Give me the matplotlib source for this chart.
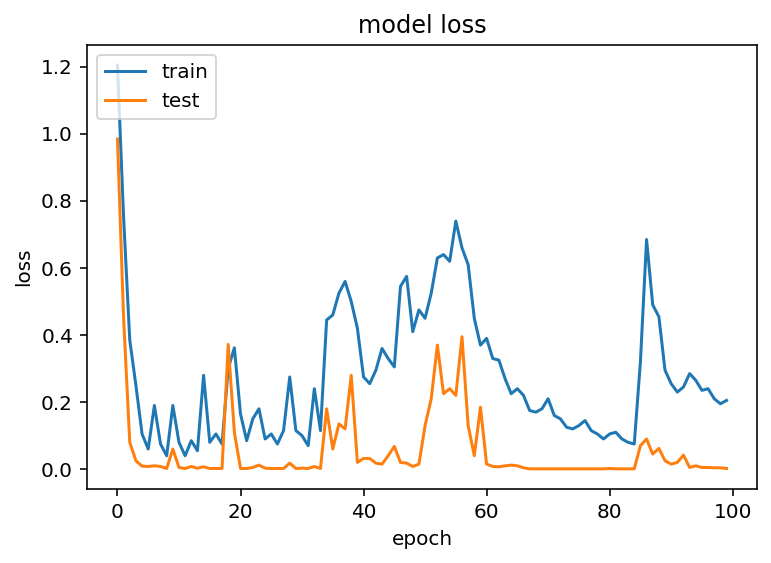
import matplotlib
matplotlib.use("Agg")
import matplotlib.pyplot as plt

# loss history
epochs = list(range(100))

train_loss = [
    1.205, 0.75, 0.385, 0.25, 0.105, 0.06, 0.19, 0.075, 0.04, 0.19,
    0.08, 0.04, 0.085, 0.055, 0.28, 0.08, 0.105, 0.075, 0.30, 0.362,
    0.165, 0.085, 0.15, 0.18, 0.09, 0.105, 0.075, 0.115, 0.275, 0.115,
    0.10, 0.07, 0.24, 0.115, 0.445, 0.46, 0.525, 0.56, 0.50, 0.42,
    0.275, 0.255, 0.295, 0.36, 0.33, 0.305, 0.545, 0.575, 0.41, 0.475,
    0.45, 0.525, 0.63, 0.64, 0.62, 0.74, 0.66, 0.61, 0.45, 0.37,
    0.39, 0.33, 0.325, 0.27, 0.225, 0.24, 0.22, 0.175, 0.17, 0.18,
    0.21, 0.16, 0.15, 0.125, 0.12, 0.13, 0.145, 0.115, 0.105, 0.09,
    0.105, 0.11, 0.09, 0.08, 0.075, 0.32, 0.685, 0.49, 0.455, 0.295,
    0.255, 0.23, 0.245, 0.285, 0.265, 0.235, 0.24, 0.21, 0.195, 0.205,
]

test_loss = [
    0.985, 0.45, 0.08, 0.025, 0.009, 0.008, 0.01, 0.008, 0.002, 0.06,
    0.005, 0.002, 0.008, 0.003, 0.007, 0.002, 0.002, 0.002, 0.372, 0.11,
    0.002, 0.002, 0.005, 0.012, 0.003, 0.002, 0.002, 0.002, 0.018, 0.002,
    0.003, 0.002, 0.008, 0.002, 0.18, 0.06, 0.135, 0.12, 0.28, 0.02,
    0.032, 0.032, 0.018, 0.015, 0.04, 0.068, 0.02, 0.018, 0.008, 0.015,
    0.13, 0.21, 0.37, 0.225, 0.24, 0.22, 0.395, 0.13, 0.04, 0.185,
    0.015, 0.008, 0.007, 0.01, 0.012, 0.01, 0.004, 0.001, 0.001, 0.001,
    0.001, 0.001, 0.001, 0.001, 0.001, 0.001, 0.001, 0.001, 0.001, 0.001,
    0.002, 0.001, 0.001, 0.001, 0.001, 0.07, 0.09, 0.045, 0.062, 0.025,
    0.015, 0.02, 0.042, 0.005, 0.01, 0.005, 0.005, 0.004, 0.004, 0.002,
]

DPI = 144
fig = plt.figure(figsize=(771 / DPI, 563 / DPI), dpi=DPI)
plt.subplots_adjust(left=87 / 771, right=757 / 771, bottom=1 - 489 / 563, top=1 - 45 / 563)

plt.plot(epochs, train_loss)
plt.plot(epochs, test_loss)
plt.title('model loss')
plt.ylabel('loss')
plt.xlabel('epoch')
plt.legend(['train', 'test'], loc='upper left')

plt.savefig('out.png', dpi=DPI)
